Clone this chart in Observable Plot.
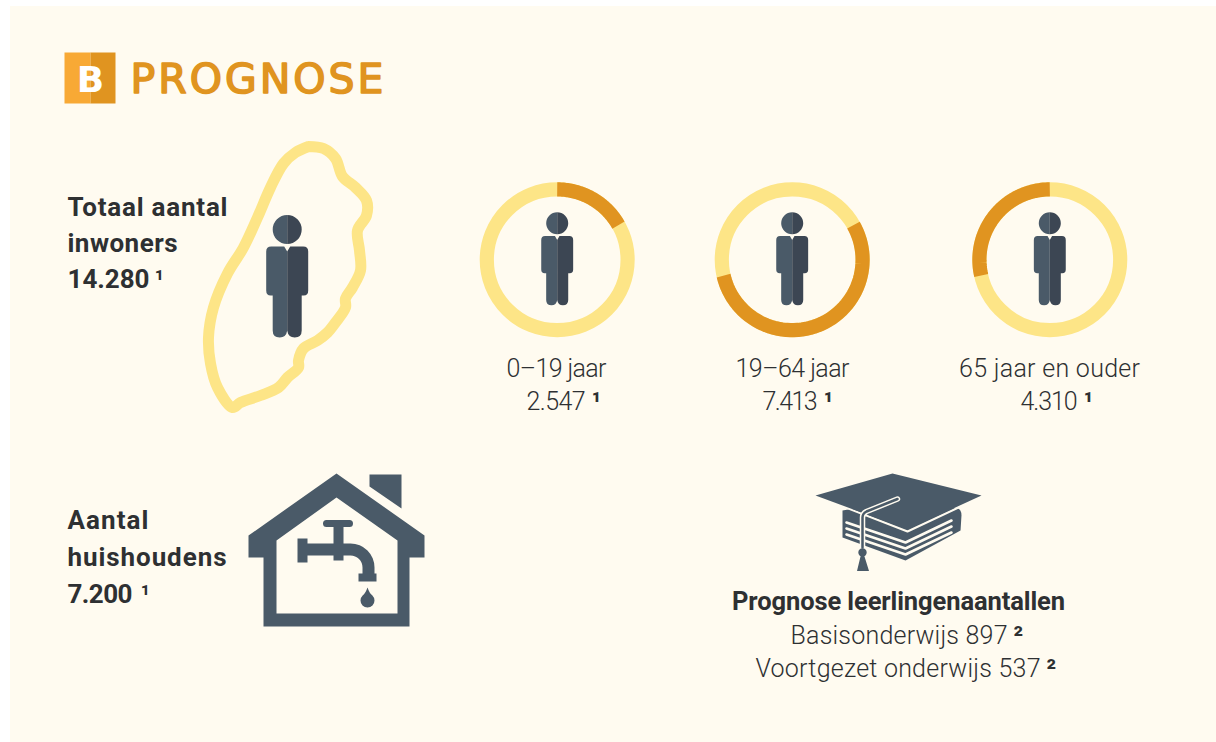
<!DOCTYPE html>
<html lang="nl">
<head>
<meta charset="utf-8">
<title>Prognose</title>
<script src="https://cdn.jsdelivr.net/npm/d3@7"></script>
<script src="https://cdn.jsdelivr.net/npm/@observablehq/plot@0.6"></script>
<style>
  html, body { margin: 0; padding: 0; background: #fff; overflow: hidden; }
  #panel { position: absolute; left: 10px; top: 6px; right: 0; bottom: 0; background: #fffbf0; }
  #chart { position: absolute; left: 0; top: 0; width: 1216px; height: 742px; }
  #chart svg { display: block; background: transparent; }
</style>
</head>
<body>
<div id="panel"></div>
<div id="chart"></div>
<script>
// ---- chart values ----
const ageLabels = ["0–19 jaar", "19–64 jaar", "65 jaar en ouder"];
const ageValues = ["2.547", "7.413", "4.310"];
const arcShares = [0.168, 0.546, 0.286];      // orange part of each ring
const ringCentersX = [556.7, 791.7, 1049.3];
const ringCenterY = 259.3;
const ageLabelsX = [556, 792, 1049];
const ageValuesEndX = [585, 817, 1077];
const ageNotesX = [591, 823, 1083];

const title = "PROGNOSE";
const totalLines = ["Totaal aantal", "inwoners"];
const totalValue = "14.280";
const householdLines = ["Aantal", "huishoudens"];
const householdValue = "7.200";
const eduHead = "Prognose leerlingenaantallen";
const eduLines = ["Basisonderwijs 897", "Voortgezet onderwijs 537"];
const eduStartX = [790, 755];
const eduNotesX = [1013, 1046];
const noteOne = "¹", noteTwo = "²";

// widths of the set text in the picture
const textWidths = new Map([
  ["PROGNOSE", 253], ["Totaal aantal", 160], ["inwoners", 110], ["14.280", 82],
  ["Aantal", 81], ["huishoudens", 159], ["7.200", 65], ["Prognose leerlingenaantallen", 333],
  ["Basisonderwijs 897", 217], ["Voortgezet onderwijs 537", 285],
  ["0–19 jaar", 100], ["19–64 jaar", 114], ["65 jaar en ouder", 181],
  ["2.547", 59], ["7.413", 55], ["4.310", 57]
]);

// island outline
const islandX = [308,323,335,342,355,366,366,357,359,360,352,345,345,335,327,317,303,298,298,287,278,260,240,232,217,210,208,213,227,243,257,270,283,295,308];
const islandY = [146,148,158,176,187,200,215,230,250,270,287,298,307,322,332,340,348,360,367,377,387,395,402,407,387,363,337,307,273,247,217,187,163,152,146];

// ---- colours ----
const slate = "#4a5a68", slateDark = "#3c4653", orange = "#e09420", orangeLight = "#f8a935",
      yellow = "#fde587", cream = "#fffbf0", ink = "#2e3032";

// ---- derived tables ----
const rings = arcShares.map((share, i) => ({cx: ringCentersX[i], cy: ringCenterY}));
const r = 70.4;
let cumulative = 0;
const arcPoints = arcShares.flatMap((share, i) => {
  const a0 = cumulative * 2 * Math.PI, a1 = (cumulative + share) * 2 * Math.PI;
  cumulative += share;
  return d3.range(0, 61).map(k => {
    const a = a0 + (a1 - a0) * k / 60;
    return {ring: i, x: ringCentersX[i] + r * Math.sin(a), y: ringCenterY - r * Math.cos(a)};
  });
});
const island = islandX.map((x, i) => ({x, y: islandY[i]}));

// ---- glyph shapes for Plot.vector ----
function poly(ctx, pts) {
  pts.forEach((p, i) => i ? ctx.lineTo(p[0], p[1]) : ctx.moveTo(p[0], p[1]));
  ctx.closePath();
}
function personHalf(sign) {
  return {draw(ctx, l) {
    const s = l / 100, q = sign * s;
    const head = 14.5 * s;
    ctx.moveTo(0, -head);
    ctx.arc(0, 0, head, -Math.PI / 2, Math.PI / 2, sign < 0);
    ctx.closePath();
    ctx.moveTo(0, 22 * s);
    ctx.lineTo(3 * q, 17 * s);
    ctx.lineTo(16 * q, 17 * s);
    ctx.quadraticCurveTo(21 * q, 17 * s, 21 * q, 22 * s);
    ctx.lineTo(21 * q, 61 * s);
    ctx.quadraticCurveTo(21 * q, 66 * s, 16.5 * q, 66 * s);
    ctx.lineTo(14.5 * q, 66 * s);
    ctx.lineTo(14.5 * q, 101 * s);
    ctx.quadraticCurveTo(14.5 * q, 108 * s, 7.5 * q, 108 * s);
    ctx.quadraticCurveTo(1 * q, 108 * s, 0, 101 * s);
    ctx.closePath();
  }};
}
const houseShape = {draw(ctx) {
  poly(ctx, [[0,-77],[-88,-15],[-88,7],[-73,7],[-73,76],[73,76],[73,7],[88,7],[88,-15]]);
  poly(ctx, [[0,-53],[61,-10],[61,63],[-60,63],[-60,-10]]);
  poly(ctx, [[33,-76],[65,-76],[65,-42],[33,-64]]);
  // tap
  ctx.moveTo(-10,-30.5); ctx.lineTo(13,-30.5); ctx.arc(13,-27,3.5,-Math.PI/2,Math.PI/2); ctx.lineTo(-10,-23.5); ctx.arc(-10,-27,3.5,Math.PI/2,-Math.PI/2); ctx.closePath();
  poly(ctx, [[-3,-27],[7,-27],[7,10],[-3,10]]);
  poly(ctx, [[-39,-12],[-29,-12],[-29,12],[-39,12]]);
  ctx.moveTo(-29,-7); ctx.lineTo(14,-7);
  ctx.arc(14,17,24,-Math.PI/2,0);
  ctx.lineTo(38,24); ctx.lineTo(26,24); ctx.lineTo(26,17);
  ctx.arc(14,17,12,0,-Math.PI/2,true);
  ctx.lineTo(-29,5); ctx.closePath();
  poly(ctx, [[22,23],[40,23],[40,31],[22,31]]);
  ctx.moveTo(31,37);
  ctx.quadraticCurveTo(33,43,36,45);
  ctx.arc(31,50,7,-0.8,Math.PI+0.8);
  ctx.quadraticCurveTo(29,43,31,37);
  ctx.closePath();
}};
const bookShape = {draw(ctx) {
  ctx.moveTo(957,508);
  ctx.quadraticCurveTo(961,509,961,515);
  ctx.lineTo(960,530);
  ctx.lineTo(905,560);
  ctx.lineTo(842,537);
  ctx.lineTo(842,510);
  ctx.lineTo(900,500);
  ctx.closePath();
}};
const pageLinesShape = {draw(ctx) {
  for (const dy of [0, 6, 12]) {
    ctx.moveTo(846, 522 + dy);
    ctx.lineTo(905, 542 + dy);
    ctx.lineTo(951, 520 + dy);
  }
}};
const boardEdgeShape = {draw(ctx) {
  ctx.moveTo(840,505); ctx.lineTo(907,531); ctx.lineTo(958,507);
}};
const boardShape = {draw(ctx) {
  poly(ctx, [[815,495],[892,473],[981,495],[907,529]]);
}};
const cordShape = {draw(ctx) {
  ctx.moveTo(897,498.5);
  ctx.lineTo(866,511);
  ctx.quadraticCurveTo(862,513,862,517);
  ctx.lineTo(862,547);
}};
const tasselShape = {draw(ctx) {
  ctx.moveTo(862,548); ctx.arc(862,552,4.2,-Math.PI/2,1.5*Math.PI); ctx.closePath();
  poly(ctx, [[860,556],[864,556],[868.5,570.5],[856.5,570.5]]);
}};
const logoLeft = {draw(ctx) { poly(ctx, [[0,0],[26,0],[26,51],[0,51]]); }};
const logoRight = {draw(ctx) { poly(ctx, [[26,0],[51,0],[51,51],[26,51]]); }};

const glyph = (x, y, shape, fill, extra = {}) =>
  Plot.vector([{x, y}], {x: "x", y: "y", shape, anchor: "start", rotate: 0, length: 100, fill, stroke: "none", ...extra});
const lineGlyph = (shape, stroke, strokeWidth) =>
  Plot.vector([{x: 0, y: 0}], {x: "x", y: "y", shape, anchor: "start", rotate: 0, length: 100, fill: "none", stroke, strokeWidth, strokeLinecap: "round", strokeLinejoin: "round"});

const fontFamily = "Roboto, sans-serif";
const boldText = (lines, ys, x) => Plot.text(lines, {
  x: () => x, y: (d, i) => ys[i], text: d => d, textAnchor: "start", lineAnchor: "bottom",
  fontFamily, fontWeight: 700, fontSize: 26, fill: ink
});
const lightText = (lines, xs, ys, textAnchor = "middle") => Plot.text(lines, {
  x: (d, i) => xs[i], y: (d, i) => ys[i], text: d => d, textAnchor, lineAnchor: "bottom",
  fontFamily, fontWeight: 300, fontSize: 25, fill: ink
});
const note = (mark, xs, ys, fontWeight = 700) => Plot.text(xs, {
  x: d => d, y: (d, i) => ys[i], text: () => mark, textAnchor: "start", lineAnchor: "bottom",
  fontFamily, fontWeight, fontSize: 26, fill: ink
});

const chart = Plot.plot({
  width: 1216, height: 742,
  margin: 0,
  x: {domain: [0, 1216], range: [0, 1216], axis: null},
  y: {domain: [0, 742], range: [0, 742], axis: null},
  style: {background: "transparent"},
  marks: [
    // header
    glyph(64, 52, logoLeft, orangeLight),
    glyph(64, 52, logoRight, orange),
    Plot.text(["B"], {x: () => 90, y: () => 91, text: d => d, lineAnchor: "bottom", textAnchor: "middle",
      fontFamily: "DejaVu Sans", fontWeight: 700, fontSize: 36, fill: "#fff"}),
    Plot.text([title], {x: () => 130, y: () => 92, text: d => d, lineAnchor: "bottom", textAnchor: "start",
      fontFamily: "DejaVu Sans", fontWeight: 400, fontSize: 41, fill: orange, stroke: orange, strokeWidth: 1.6,
      strokeLinejoin: "round"}),

    // total
    Plot.line(island, {x: "x", y: "y", stroke: yellow, strokeWidth: 11, strokeLinejoin: "round", curve: "catmull-rom"}),
    boldText(totalLines, [215, 251], 67),
    boldText([totalValue], [287], 67),
    note(noteOne, [154], [287], 500),
    glyph(286.7, 229, personHalf(-1), slate),
    glyph(286.7, 229, personHalf(1), slateDark),

    // rings
    Plot.dot(rings, {x: "cx", y: "cy", r, stroke: yellow, strokeWidth: 14.2, fill: "none"}),
    Plot.line(arcPoints, {x: "x", y: "y", z: "ring", stroke: orange, strokeWidth: 14.2, strokeLinecap: "butt"}),
    Plot.vector(rings, {x: "cx", y: () => ringCenterY - 36.6, shape: personHalf(-1), anchor: "start", rotate: 0, length: 76, fill: slate, stroke: "none"}),
    Plot.vector(rings, {x: "cx", y: () => ringCenterY - 36.6, shape: personHalf(1), anchor: "start", rotate: 0, length: 76, fill: slateDark, stroke: "none"}),
    lightText(ageLabels, ageLabelsX, [376, 376, 376]),
    lightText(ageValues, ageValuesEndX, [409, 409, 409], "end"),
    note(noteOne, ageNotesX, [409, 409, 409]),

    // households
    boldText(householdLines, [528, 565], 67),
    boldText([householdValue], [602], 67),
    note(noteOne, [140], [602], 500),
    glyph(336, 550, houseShape, slate),

    // education
    glyph(0, 0, bookShape, slate),
    lineGlyph(pageLinesShape, cream, 2.6),
    lineGlyph(boardEdgeShape, cream, 2),
    glyph(0, 0, boardShape, slate),
    lineGlyph(cordShape, cream, 5.5),
    lineGlyph(cordShape, slate, 2.5),
    glyph(0, 0, tasselShape, slate),
    Plot.text([eduHead], {x: () => 898, y: () => 609, text: d => d, lineAnchor: "bottom", textAnchor: "middle",
      fontFamily, fontWeight: 700, fontSize: 25.5, fill: ink}),
    lightText(eduLines, eduStartX, [643, 676], "start"),
    note(noteTwo, eduNotesX, [643, 676])
  ]
});
chart.querySelectorAll("text").forEach(t => {
  const w = textWidths.get(t.textContent);
  if (w) { t.setAttribute("textLength", w); t.setAttribute("lengthAdjust", "spacing"); }
});
document.getElementById("chart").append(chart);
</script>
</body>
</html>
